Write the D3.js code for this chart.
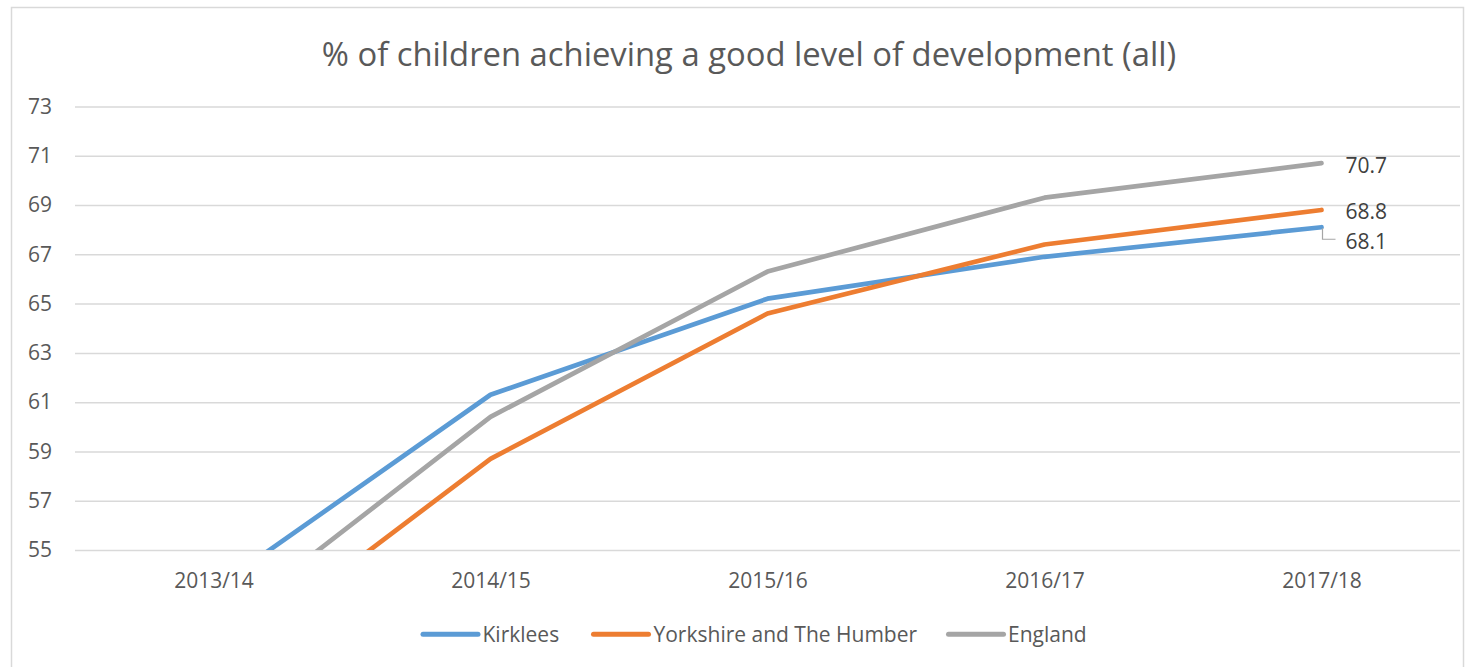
<!DOCTYPE html>
<html>
<head>
<meta charset="utf-8">
<script src="https://cdn.jsdelivr.net/npm/d3@7"></script>
<style>
  html, body { margin: 0; padding: 0; background: #fff; }
  svg { display: block; }
  svg text { font-family: "Open Sans", "Liberation Sans", sans-serif; }
</style>
</head>
<body>
<svg id="chart" width="1468" height="667"></svg>
<script>
const title = "% of children achieving a good level of development (all)";
const categories = ["2013/14", "2014/15", "2015/16", "2016/17", "2017/18"];
const kirklees = [53.4, 61.3, 65.2, 66.9, 68.1];
const yorkshire = [50.2, 58.7, 64.6, 67.4, 68.8];
const england = [51.7, 60.4, 66.3, 69.3, 70.7];
const seriesNames = ["Kirklees", "Yorkshire and The Humber", "England"];
const seriesColors = ["#5B9BD5", "#ED7D31", "#A5A5A5"];
const yTicks = [55, 57, 59, 61, 63, 65, 67, 69, 71, 73];

const series = [kirklees, yorkshire, england].map((v, i) => ({
  name: seriesNames[i], color: seriesColors[i], values: v
}));

const svg = d3.select("#chart");
const plot = { left: 75, right: 1460, top: 106.5, bottom: 550 };
const textColor = "#595959";
const gridColor = "#D9D9D9";

// chart border
svg.append("rect")
  .attr("x", 11.5).attr("y", 7.5)
  .attr("width", 1452).attr("height", 670)
  .attr("fill", "#fff").attr("stroke", gridColor).attr("stroke-width", 1.5);

const x = d3.scalePoint().domain(categories)
  .range([plot.left, plot.right]).padding(0.5);
const y = d3.scaleLinear().domain([55, 73]).range([plot.bottom, plot.top]);

// title
svg.append("text")
  .attr("x", 749).attr("y", 53)
  .attr("text-anchor", "middle").attr("dominant-baseline", "central")
  .attr("fill", textColor)
  .style("font-size", "32.8px")
  .text(title);

// gridlines + y axis
const yAxis = d3.axisLeft(y).tickValues(yTicks)
  .tickSize(-(plot.right - plot.left)).tickPadding(23).tickFormat(d3.format("d"));
const gy = svg.append("g").attr("transform", `translate(${plot.left},0)`).call(yAxis);
gy.attr("font-family", null).attr("font-size", null);
gy.select(".domain").remove();
gy.selectAll(".tick line").attr("stroke", gridColor).attr("stroke-width", 1.5);
gy.selectAll(".tick text").attr("fill", textColor).style("font-size", "21px")
  .attr("x", -23).attr("text-anchor", "end");

// x axis labels
const xAxis = d3.axisBottom(x).tickSize(0).tickPadding(0);
const gx = svg.append("g").attr("transform", `translate(0,${plot.bottom})`).call(xAxis);
gx.attr("font-family", null).attr("font-size", null);
gx.select(".domain").remove();
gx.selectAll(".tick text").attr("fill", textColor).style("font-size", "21px")
  .attr("y", 30).attr("dy", null).attr("dominant-baseline", "central");

// clip
svg.append("clipPath").attr("id", "clip")
  .append("rect").attr("x", plot.left).attr("y", plot.top - 10)
  .attr("width", plot.right - plot.left).attr("height", plot.bottom - plot.top + 10);

const line = d3.line().x((d, i) => x(categories[i])).y(d => y(d));

const gl = svg.append("g").attr("clip-path", "url(#clip)");
series.forEach(s => {
  gl.append("path").datum(s.values)
    .attr("d", line)
    .attr("fill", "none").attr("stroke", s.color)
    .attr("stroke-width", 4.7).attr("stroke-linecap", "round").attr("stroke-linejoin", "round");
});

// data labels at last point
const last = categories.length - 1;
const lx = x(categories[last]) + 24;
const labelOffsets = [14, 1.5, 1.5];
series.forEach((s, i) => {
  const v = s.values[last];
  svg.append("text")
    .attr("x", lx).attr("y", y(v) + labelOffsets[i])
    .attr("dominant-baseline", "central")
    .attr("fill", "#404040").style("font-size", "21px")
    .text(v.toFixed(1));
});
// leader line for Kirklees label
const kx = x(categories[last]) + 1, ky = y(kirklees[last]);
svg.append("path")
  .attr("d", `M${kx},${ky + 1}V${ky + 12}H${kx + 13}`)
  .attr("fill", "none").attr("stroke", "#A6A6A6").attr("stroke-width", 1.2);

// legend
const legendItems = [
  { x: 423, tx: 482.5 },
  { x: 593.5, tx: 653.5 },
  { x: 948.5, tx: 1008 }
];
const legY = 634.3;
series.forEach((s, i) => {
  const g = svg.append("g");
  g.append("line")
    .attr("x1", legendItems[i].x).attr("x2", legendItems[i].x + 55)
    .attr("y1", legY).attr("y2", legY)
    .attr("stroke", s.color).attr("stroke-width", 5).attr("stroke-linecap", "round");
  g.append("text")
    .attr("x", legendItems[i].tx).attr("y", legY)
    .attr("dominant-baseline", "central")
    .attr("fill", textColor).style("font-size", "21px")
    .text(s.name);
});
</script>
</body>
</html>
